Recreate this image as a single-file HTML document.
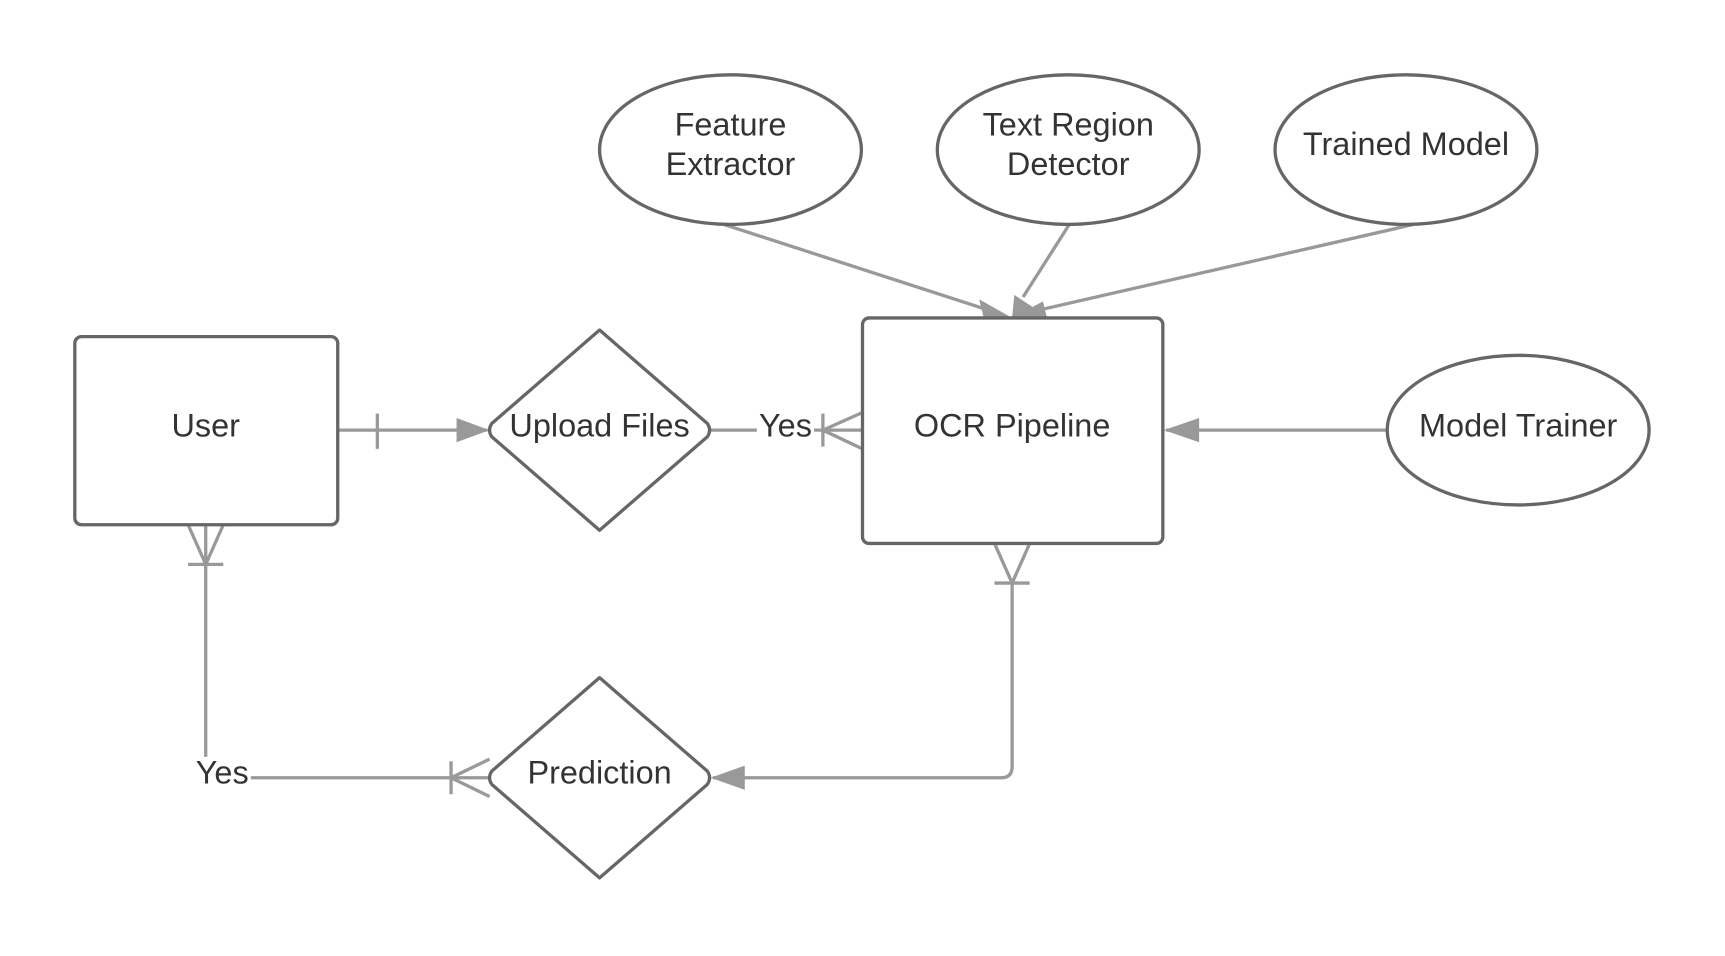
<!DOCTYPE html>
<html><head><style>html,body{margin:0;padding:0;background:#fff}svg{display:block}text{font-family:"Liberation Sans",sans-serif;font-size:29.5px;fill:#333;text-anchor:middle;dominant-baseline:central}</style></head>
<body>
<svg width="1725" height="956" viewBox="0 0 1568 869" preserveAspectRatio="none" xmlns="http://www.w3.org/2000/svg">
<g stroke="#999" stroke-width="3" fill="none">
<path d="M307,391 H443"/><path d="M343,376 V408"/>
<path d="M415,380 L445,391 L415,402Z" fill="#999" stroke="none"/>
<path d="M645,391 H688"/><path d="M740,391 H784"/>
<path d="M784,375 L748,391 L784,408 M748,376 V406"/>
<path d="M1260,391 H1060"/><path d="M1090,380 L1058,391 L1090,402Z" fill="#999" stroke="none"/>
<path d="M658,204 L905,284"/><path d="M972,204 L930,270"/><path d="M1285,204 L935,284"/>
<path d="M890,272 L920,289 L895,292Z" fill="#999" stroke="none"/>
<path d="M922,268 L920,289 L940,280Z" fill="#999" stroke="none"/>
<path d="M948,274 L920,289 L952,290Z" fill="#999" stroke="none"/>
<path d="M904,494 L920,530 L936,494 M904,530 H936"/>
<path d="M920,530 V697 Q920,707 910,707 H648"/><path d="M677,696 L646,707 L677,718Z" fill="#999" stroke="none"/>
<path d="M445,707 H228"/><path d="M445,690 L410,707 L445,724 M410,692 V722"/>
<path d="M187,688 V477"/><path d="M171,477 L187,513 L203,477 M171,513 H203"/>
</g>
<g stroke="#666" stroke-width="3" fill="#fff">
<rect x="68" y="306" width="239" height="171" rx="6"/>
<rect x="784" y="289" width="273" height="205" rx="6"/>
<path d="M545,300 L643,385 Q647,391 643,397 L545,482 L447,397 Q443,391 447,385Z" stroke-linejoin="round"/>
<path d="M545,616 L643,701 Q647,707 643,713 L545,798 L447,713 Q443,707 447,701Z" stroke-linejoin="round"/>
<ellipse cx="664" cy="136" rx="119" ry="68"/>
<ellipse cx="971" cy="136" rx="119" ry="68"/>
<ellipse cx="1278" cy="136" rx="119" ry="68"/>
<ellipse cx="1380" cy="391" rx="119" ry="68"/>
</g>
<text x="187" y="387">User</text>
<text x="545" y="387">Upload Files</text>
<text x="714" y="387">Yes</text>
<text x="920" y="387">OCR Pipeline</text>
<text x="1380" y="387">Model Trainer</text>
<text x="664" y="113">Feature</text><text x="664" y="149">Extractor</text>
<text x="971" y="113">Text Region</text><text x="971" y="149">Detector</text>
<text x="1278" y="131">Trained Model</text>
<text x="545" y="702">Prediction</text>
<text x="202" y="702">Yes</text>
</svg>
</body></html>
